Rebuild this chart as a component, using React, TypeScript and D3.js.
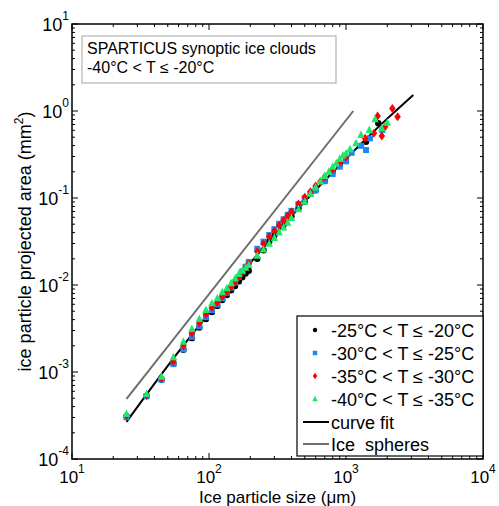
import React from "react";
import * as d3 from "d3";

// ---- data ----
const blackSizes = [25,35,45,55,65,75,85,95,105,115,125,135,145,155,165,175,185,195,225,250,275,300,350,400,450,500,600,700,800,900,1000,1400,1720];
const blackAreas = [3.09e-4,5.31e-4,8.22e-4,1.24e-3,1.80e-3,2.45e-3,3.24e-3,4.07e-3,4.90e-3,5.75e-3,6.73e-3,7.67e-3,8.71e-3,9.75e-3,1.10e-2,1.23e-2,1.36e-2,1.46e-2,2.0e-2,2.51e-2,3.16e-2,3.72e-2,4.90e-2,6.17e-2,7.59e-2,9.12e-2,0.123,0.158,0.200,0.240,0.282,0.444,0.723];

const blueSizes = [25,35,45,55,65,75,85,95,105,115,125,135,145,155,165,175,185,195,225,250,275,300,325,350,375,400,450,500,550,600,700,800,900,1000,1100,1290,1400,1496,1840];
const blueAreas = [3.02e-4,5.25e-4,8.13e-4,1.23e-3,1.82e-3,2.54e-3,3.35e-3,4.27e-3,5.13e-3,5.96e-3,7.00e-3,8.13e-3,9.33e-3,1.07e-2,1.24e-2,1.43e-2,1.62e-2,1.84e-2,2.61e-2,3.15e-2,3.75e-2,4.38e-2,5.05e-2,5.69e-2,6.41e-2,7.10e-2,8.51e-2,9.95e-2,0.112,0.123,0.156,0.189,0.229,0.264,0.331,0.398,0.356,0.485,0.605];

const redSizes = [25,35,45,55,65,75,85,95,105,115,125,135,145,155,165,175,185,195,225,250,275,300,325,350,375,400,450,500,550,600,650,700,800,900,1000,1378,1600,1700,1825,1930,2180,2380];
const redAreas = [3.16e-4,5.37e-4,8.41e-4,1.32e-3,2.00e-3,2.79e-3,3.63e-3,4.62e-3,5.50e-3,6.31e-3,7.41e-3,8.32e-3,9.55e-3,1.08e-2,1.23e-2,1.40e-2,1.58e-2,1.76e-2,2.43e-2,2.98e-2,3.58e-2,4.18e-2,4.82e-2,5.50e-2,6.19e-2,6.93e-2,8.51e-2,0.102,0.118,0.137,0.155,0.175,0.212,0.256,0.296,0.485,0.555,0.877,0.516,0.661,1.07,0.861];

const greenSizes = [25,35,45,55,65,75,85,95,105,115,125,135,145,155,165,175,185,195,225,250,275,300,325,350,375,400,450,500,550,600,650,700,750,800,850,900,950,1000,1070,1183,1285,1480,1630,1825,2000];
const greenAreas = [3.29e-4,5.58e-4,8.83e-4,1.48e-3,2.23e-3,3.12e-3,4.06e-3,5.16e-3,6.17e-3,7.03e-3,8.24e-3,9.16e-3,1.05e-2,1.19e-2,1.34e-2,1.46e-2,1.58e-2,1.70e-2,2.17e-2,2.56e-2,2.98e-2,3.48e-2,4.01e-2,4.57e-2,5.21e-2,5.90e-2,7.41e-2,9.08e-2,0.112,0.132,0.155,0.179,0.200,0.228,0.251,0.281,0.307,0.325,0.363,0.425,0.530,0.605,0.804,0.632,0.735];

const fitSizes = [25,40,60,100,150,200,300,500,700,1000,1500,2000,3100];
const fitAreas = [2.67e-4,7.34e-4,1.71e-3,4.76e-3,1.04e-2,1.79e-2,3.72e-2,9.08e-2,0.159,0.283,0.531,0.817,1.53];

const sphereSizes = [25,1130];
const sphereAreas = [4.9e-4,1.0];

const xTickExps = [1,2,3,4];
const yTickExps = [-4,-3,-2,-1,0,1];

const legendLabels = [
  "-25\u00B0C < T \u2264 -20\u00B0C",
  "-30\u00B0C < T \u2264 -25\u00B0C",
  "-35\u00B0C < T \u2264 -30\u00B0C",
  "-40\u00B0C < T \u2264 -35\u00B0C",
  "curve fit",
  "Ice  spheres",
];

const FONT = "'Liberation Sans', Arial, Helvetica, sans-serif";
const BLUE = "#1f88f5";
const RED = "#ff0000";
const GREEN = "#1ee86a";

const L = 72, R = 483, T = 24, B = 459;

export default function App() {
  const x = d3.scaleLog().domain([10, 10000]).range([L, R]);
  const y = d3.scaleLog().domain([1e-4, 10]).range([B, T]);

  const fitLine = d3.line<number>()
    .x((d, i) => x(fitSizes[i]))
    .y((d) => y(d))
    .curve(d3.curveCatmullRom)(fitAreas);
  const sphereLine = d3.line<number>()
    .x((d, i) => x(sphereSizes[i]))
    .y((d) => y(d))(sphereAreas);

  const minorX: number[] = [];
  for (let e = 1; e < 4; e++) for (let k = 2; k <= 9; k++) minorX.push(k * Math.pow(10, e));
  const minorY: number[] = [];
  for (let e = -4; e < 1; e++) for (let k = 2; k <= 9; k++) minorY.push(k * Math.pow(10, e));

  const circle = (cx: number, cy: number, r: number, key: any) => (
    <circle key={key} cx={cx} cy={cy} r={r} fill="#000" />
  );
  const square = (cx: number, cy: number, s: number, key: any) => (
    <rect key={key} x={cx - s / 2} y={cy - s / 2} width={s} height={s} fill={BLUE} />
  );
  const diamond = (cx: number, cy: number, w: number, h: number, key: any) => (
    <path key={key} d={`M${cx},${cy - h / 2}L${cx + w / 2},${cy}L${cx},${cy + h / 2}L${cx - w / 2},${cy}Z`} fill={RED} />
  );
  const triangle = (cx: number, cy: number, s: number, key: any) => (
    <path key={key} d={`M${cx},${cy - s * 0.6}L${cx + s / 2},${cy + s * 0.4}L${cx - s / 2},${cy + s * 0.4}Z`} fill={GREEN} />
  );

  const legY = [330, 353, 376, 399, 422, 444];

  return (
    <svg width={499} height={506} style={{ position: "absolute", left: 0, top: 0, background: "#fff" }} fontFamily={FONT}>
      <rect x={0} y={0} width={499} height={506} fill="#fff" />
      {/* ticks */}
      {xTickExps.map((e) => {
        const px = x(Math.pow(10, e));
        return (
          <g key={"xt" + e}>
            <line x1={px} x2={px} y1={B} y2={B - 6} stroke="#000" strokeWidth={1} />
            <line x1={px} x2={px} y1={T} y2={T + 6} stroke="#000" strokeWidth={1} />
            <text x={px} y={483} textAnchor="middle" fontSize={17}>
              10<tspan fontSize={12} dy={-10}>{e}</tspan>
            </text>
          </g>
        );
      })}
      {minorX.map((v, i) => (
        <g key={"mx" + i}>
          <line x1={x(v)} x2={x(v)} y1={B} y2={B - 3} stroke="#000" strokeWidth={1} />
          <line x1={x(v)} x2={x(v)} y1={T} y2={T + 3} stroke="#000" strokeWidth={1} />
        </g>
      ))}
      {yTickExps.map((e) => {
        const py = y(Math.pow(10, e));
        return (
          <g key={"yt" + e}>
            <line x1={L} x2={L + 6} y1={py} y2={py} stroke="#000" strokeWidth={1} />
            <line x1={R} x2={R - 6} y1={py} y2={py} stroke="#000" strokeWidth={1} />
            <text x={69} y={py + 6.5} textAnchor="end" fontSize={18}>
              10<tspan fontSize={12} dy={-10.5}>{e}</tspan>
            </text>
          </g>
        );
      })}
      {minorY.map((v, i) => (
        <g key={"my" + i}>
          <line x1={L} x2={L + 3} y1={y(v)} y2={y(v)} stroke="#000" strokeWidth={1} />
          <line x1={R} x2={R - 3} y1={y(v)} y2={y(v)} stroke="#000" strokeWidth={1} />
        </g>
      ))}

      {/* lines */}
      <path d={sphereLine || ""} fill="none" stroke="#6e6e6e" strokeWidth={2} />
      <path d={fitLine || ""} fill="none" stroke="#000" strokeWidth={2} />

      {/* points */}
      {blackSizes.map((s, i) => circle(x(s), y(blackAreas[i]), 3.2, "k" + i))}
      {blueSizes.map((s, i) => square(x(s), y(blueAreas[i]), 6, "b" + i))}
      {redSizes.map((s, i) => diamond(x(s), y(redAreas[i]), 6.5, 9, "r" + i))}
      {greenSizes.map((s, i) => triangle(x(s), y(greenAreas[i]), 7.5, "g" + i))}

      {/* frame */}
      <rect x={L} y={T} width={R - L} height={B - T} fill="none" stroke="#000" strokeWidth={1.5} />

      {/* annotation box */}
      <rect x={82} y={36} width={254} height={47} fill="#fff" stroke="#b4b4b4" strokeWidth={1.2} />
      <text x={87} y={53.5} fontSize={16}>SPARTICUS synoptic ice clouds</text>
      <text x={87} y={73} fontSize={16}>-40{"\u00B0"}C &lt; T {"\u2264"} -20{"\u00B0"}C</text>

      {/* legend */}
      <rect x={297} y={316} width={186} height={140} fill="#fff" stroke="#000" strokeWidth={1.2} />
      {circle(315, legY[0], 2.2, "lk")}
      {square(315, legY[1], 4.5, "lb")}
      {diamond(315, legY[2], 4.5, 6.5, "lr")}
      {triangle(315, legY[3], 5.5, "lg")}
      <line x1={303} x2={329} y1={legY[4]} y2={legY[4]} stroke="#000" strokeWidth={2} />
      <line x1={303} x2={329} y1={legY[5]} y2={legY[5]} stroke="#6e6e6e" strokeWidth={2} />
      {legendLabels.map((t, i) => (
        <text key={"lt" + i} x={331} y={legY[i] + 6.5} fontSize={18} style={{ whiteSpace: "pre" }}>{t}</text>
      ))}

      {/* axis titles */}
      <text x={(L + R) / 2} y={503} textAnchor="middle" fontSize={17}>Ice particle size ({"\u03BC"}m)</text>
      <text transform={`translate(31,${(T + B) / 2}) rotate(-90)`} textAnchor="middle" fontSize={18}>
        ice particle projected area (mm<tspan fontSize={12} dy={-8}>2</tspan><tspan dy={8}>)</tspan>
      </text>
    </svg>
  );
}
